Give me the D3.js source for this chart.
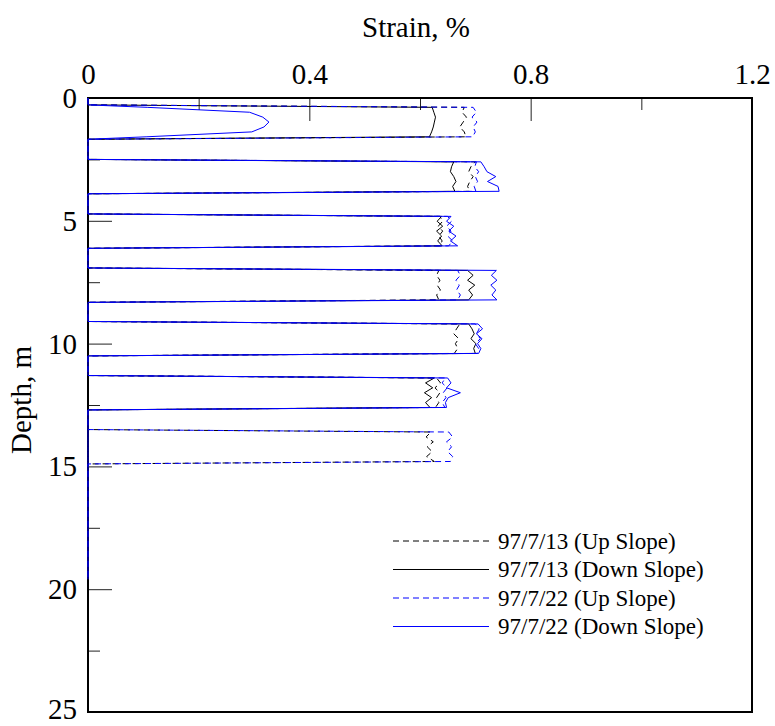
<!DOCTYPE html>
<html>
<head>
<meta charset="utf-8">
<script src="https://cdn.jsdelivr.net/npm/d3@7"></script>
<style>
  html, body { margin: 0; padding: 0; background: #fff; }
  svg { display: block; }
  svg text { font-family: 'Liberation Serif', 'Times New Roman', Times, 'Nimbus Roman', 'DejaVu Serif', serif; fill: #000; }
</style>
</head>
<body>
<svg id="chart" width="775" height="726"></svg>
<script>
// Depth of each reading (m); readings are grouped in seven measured intervals
const depth = [
  0,
  0.28, 0.38, 0.58, 0.78, 0.98, 1.18, 1.38, 1.58, 1.68,
  2.50, 2.60, 2.80, 3.00, 3.20, 3.40, 3.60, 3.80, 3.90,
  4.72, 4.82, 5.02, 5.22, 5.42, 5.62, 5.82, 6.02, 6.12,
  6.92, 7.02, 7.22, 7.42, 7.62, 7.82, 8.02, 8.22, 8.32,
  9.10, 9.20, 9.40, 9.60, 9.80, 10.00, 10.20, 10.40, 10.50,
  11.30, 11.40, 11.60, 11.80, 12.00, 12.20, 12.40, 12.60, 12.70,
  13.50, 13.60, 13.80, 14.00, 14.20, 14.40, 14.60, 14.80, 14.90,
  19.60
];

// Strain (%) per series, one value per depth above
const strainUp0713 = [
  0,
  0, 0.680, 0.676, 0.684, 0.678, 0.672, 0.680, 0.683, 0,
  0, 0.700, 0.692, 0.688, 0.696, 0.690, 0.686, 0.690, 0,
  0, 0.636, 0.641, 0.633, 0.641, 0.634, 0.640, 0.636, 0,
  0, 0.634, 0.630, 0.636, 0.631, 0.637, 0.630, 0.634, 0,
  0, 0.672, 0.666, 0.661, 0.670, 0.664, 0.668, 0.662, 0,
  0, 0.630, 0.637, 0.627, 0.636, 0.630, 0.634, 0.628, 0,
  0, 0.620, 0.611, 0.624, 0.613, 0.622, 0.612, 0.626, 0,
  0
];
const strainDown0713 = [
  0,
  0, 0.622, 0.625, 0.628, 0.626, 0.624, 0.621, 0.617, 0,
  0, 0.661, 0.657, 0.655, 0.661, 0.665, 0.659, 0.663, 0,
  0, 0.639, 0.631, 0.641, 0.630, 0.639, 0.632, 0.640, 0,
  0, 0.686, 0.696, 0.686, 0.699, 0.688, 0.695, 0.688, 0,
  0, 0.688, 0.694, 0.698, 0.692, 0.701, 0.697, 0.700, 0,
  0, 0.626, 0.610, 0.623, 0.608, 0.621, 0.610, 0.618, 0,
  0, 0, 0, 0, 0, 0, 0, 0, 0,
  0
];
const strainUp0722 = [
  0,
  0, 0.696, 0.702, 0.694, 0.703, 0.696, 0.700, 0.695, 0,
  0, 0.702, 0.699, 0.706, 0.700, 0.704, 0.698, 0.701, 0,
  0, 0.650, 0.657, 0.648, 0.656, 0.650, 0.659, 0.652, 0,
  0, 0.668, 0.673, 0.665, 0.671, 0.666, 0.673, 0.668, 0,
  0, 0.700, 0.707, 0.702, 0.709, 0.700, 0.706, 0.703, 0,
  0, 0.646, 0.640, 0.649, 0.642, 0.647, 0.640, 0.645, 0,
  0, 0.652, 0.659, 0.648, 0.657, 0.650, 0.659, 0.655, 0,
  0
];
const strainDown0722 = [
  0,
  0, 0.107, 0.292, 0.316, 0.327, 0.318, 0.296, 0.105, 0,
  0, 0.710, 0.716, 0.721, 0.737, 0.722, 0.741, 0.743, 0,
  0, 0.656, 0.648, 0.661, 0.652, 0.665, 0.655, 0.668, 0,
  0, 0.738, 0.729, 0.739, 0.728, 0.737, 0.730, 0.739, 0,
  0, 0.705, 0.713, 0.702, 0.712, 0.704, 0.710, 0.706, 0,
  0, 0.650, 0.656, 0.648, 0.673, 0.651, 0.646, 0.648, 0,
  0, 0, 0, 0, 0, 0, 0, 0, 0,
  0
];

const seriesNames = ["97/7/13 (Up Slope)", "97/7/13 (Down Slope)", "97/7/22 (Up Slope)", "97/7/22 (Down Slope)"];
const seriesValues = [strainUp0713, strainDown0713, strainUp0722, strainDown0722];
const seriesColors = ["#000000", "#000000", "#0000ff", "#0000ff"];
const seriesDashes = ["6,4", null, "6,4", null];

const xMajorTicks = [0, 0.4, 0.8, 1.2];
const xMinorTicks = [0.2, 0.6, 1.0];
const yMajorTicks = [0, 5, 10, 15, 20, 25];
const yMinorTicks = [2.5, 7.5, 12.5, 17.5, 22.5];

const margin = { left: 88, top: 98, right: 23, bottom: 14 };
const W = 775, H = 726;
const plotW = W - margin.left - margin.right;
const plotH = H - margin.top - margin.bottom;

const svg = d3.select("#chart");
const g = svg.append("g").attr("transform", `translate(${margin.left},${margin.top})`);

const x = d3.scaleLinear().domain([0, 1.2]).range([0, plotW]);
const y = d3.scaleLinear().domain([0, 25]).range([0, plotH]);

// Top axis: labelled major ticks pointing into the plot, plus shorter minor ticks
const xAxis = g.append("g")
  .call(d3.axisTop(x).tickValues(xMajorTicks).tickSize(-23).tickPadding(14)
    .tickFormat(d => d === 0 ? "0" : d3.format(".1f")(d)));
g.append("g")
  .call(d3.axisTop(x).tickValues(xMinorTicks).tickSize(-12).tickFormat(""));

const yAxis = g.append("g")
  .call(d3.axisLeft(y).tickValues(yMajorTicks).tickSize(-24).tickPadding(11));
g.append("g")
  .call(d3.axisLeft(y).tickValues(yMinorTicks).tickSize(-12).tickFormat(""));

g.selectAll(".domain").remove();
g.selectAll(".tick line").attr("stroke", "#222").attr("stroke-width", 1);
g.selectAll(".tick text")
  .attr("font-family", null)
  .attr("font-size", 29)
  .attr("fill", "#000");
// hide the ticks that fall on the frame edges
g.selectAll(".tick").filter(d => d === 0 || d === 1.2 || d === 25).select("line").remove();
xAxis.selectAll(".tick text").attr("dy", "0");
yAxis.selectAll(".tick text").attr("dy", "0.33em");
yAxis.selectAll(".tick").filter(d => d === 25).select("text").attr("dy", "0.22em");
// d3 axes set a sans-serif family on their group; drop it so the stylesheet applies
g.selectAll("g").attr("font-family", null);

// Plot frame
g.append("rect")
  .attr("x", 0).attr("y", 0).attr("width", plotW).attr("height", plotH)
  .attr("fill", "none").attr("stroke", "#000").attr("stroke-width", 2);

// Strain profiles
const line = d3.line()
  .x(d => x(d[1]))
  .y(d => y(d[0]));

seriesValues.forEach((vals, i) => {
  const pts = depth.map((dd, k) => [dd, vals[k]]);
  g.append("path")
    .datum(pts)
    .attr("fill", "none")
    .attr("stroke", seriesColors[i])
    .attr("stroke-width", 1)
    .attr("stroke-dasharray", seriesDashes[i])
    .attr("d", line);
});

// Axis titles
svg.append("text")
  .attr("x", margin.left + plotW / 2 - 4).attr("y", 37)
  .attr("text-anchor", "middle")
  .attr("font-size", 29)
  .text("Strain, %");

svg.append("text")
  .attr("transform", `translate(31,${margin.top + plotH / 2 - 5}) rotate(-90)`)
  .attr("text-anchor", "middle")
  .attr("font-size", 29)
  .text("Depth, m");

// Legend
const legend = svg.append("g").attr("transform", "translate(393,541)");
seriesNames.forEach((name, i) => {
  const row = legend.append("g").attr("transform", `translate(0,${i * 28.5})`);
  row.append("line")
    .attr("x1", 0).attr("x2", 96).attr("y1", 0).attr("y2", 0)
    .attr("stroke", seriesColors[i])
    .attr("stroke-width", 1)
    .attr("stroke-dasharray", seriesDashes[i]);
  row.append("text")
    .attr("x", 105).attr("y", 0).attr("dy", "0.34em")
    .attr("font-size", 23)
    .text(name);
});
</script>
</body>
</html>
